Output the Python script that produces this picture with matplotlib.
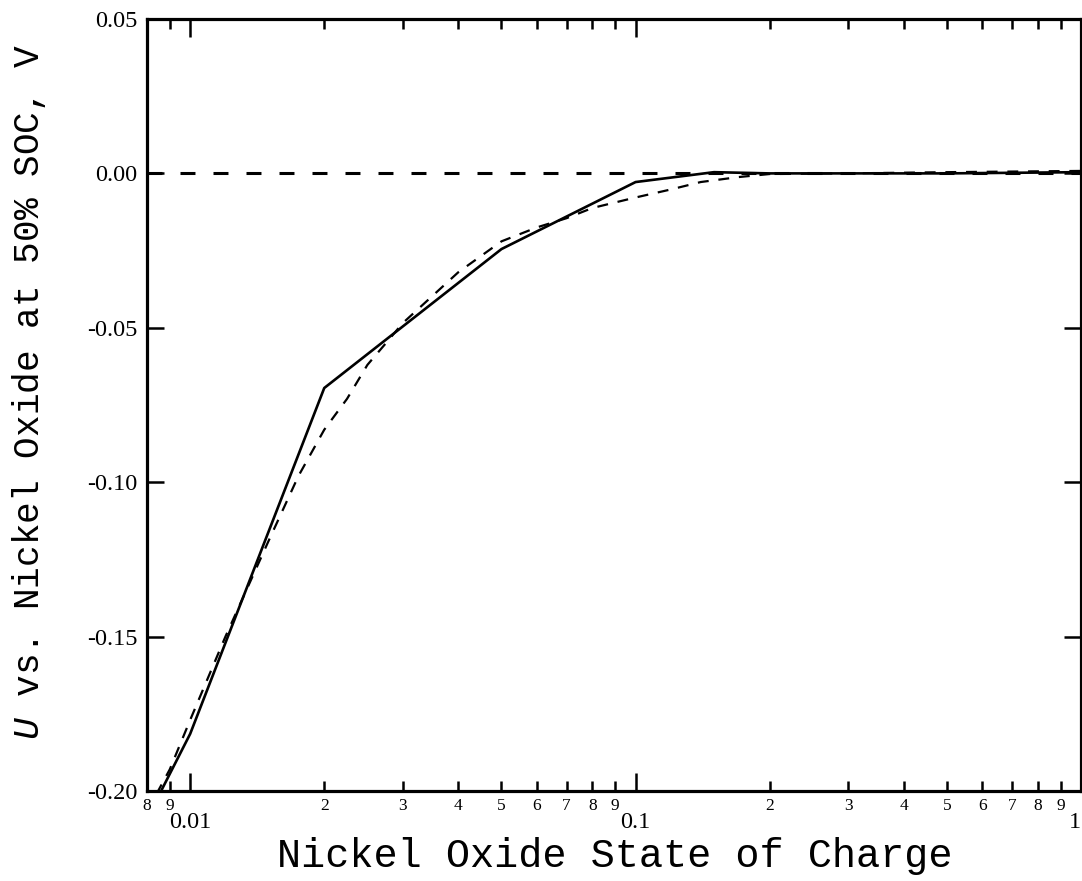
import numpy as np
import matplotlib
matplotlib.use("Agg")
import matplotlib.pyplot as plt
from matplotlib.ticker import FixedLocator, FuncFormatter, FormatStrFormatter

plt.rcParams["mathtext.fontset"] = "custom"
plt.rcParams["mathtext.it"] = "Liberation Mono:italic"
plt.rcParams["mathtext.rm"] = "Liberation Mono"

# Piecewise-linear curve (solid)
soc_solid = [0.0085, 0.01, 0.02, 0.05, 0.1, 0.15, 0.2, 0.5, 1.0]
u_solid = [-0.2015, -0.1815, -0.0695, -0.0245, -0.0028, 0.0004, 0.0, 0.0, 0.0004]

# Smooth fitted curve (dashed)
soc_fit = [0.0084, 0.009, 0.01, 0.012, 0.015, 0.0175, 0.02, 0.0225, 0.025, 0.0275,
           0.03, 0.04, 0.05, 0.06, 0.07, 0.08, 0.1, 0.12, 0.14, 0.17, 0.2, 0.3, 0.5, 1.0]
u_fit = [-0.201, -0.193, -0.177, -0.150, -0.119, -0.098, -0.083, -0.073, -0.062, -0.055,
         -0.0485, -0.032, -0.022, -0.0175, -0.0145, -0.0112, -0.0078, -0.0052, -0.0028,
         -0.0012, -0.0002, 0.0, 0.0004, 0.0008]

# Reference level
u_ref = 0.0

x_major = [0.01, 0.1, 1.0]
x_major_labels = ["0.01", "0.1", "1"]
x_minor = [0.008, 0.009] + [k * 0.01 for k in range(2, 10)] + [k * 0.1 for k in range(2, 10)]
y_ticks = [0.05, 0.00, -0.05, -0.10, -0.15, -0.20]

W, H = 1082, 881
fig = plt.figure(figsize=(W / 100, H / 100), dpi=100)
ax = fig.add_axes([147 / W, 1 - 791 / H, (1081 - 147) / W, (791 - 19) / H])

ax.set_xscale("log")
ax.set_xlim(0.0080, 1.0)
ax.set_ylim(-0.20, 0.05)

ax.axhline(u_ref, color="black", lw=2.2, dashes=(4.9, 5.9), zorder=2)
ax.plot(soc_fit, u_fit, color="black", lw=1.6, dashes=(4.9, 4.4), zorder=3)
ax.plot(soc_solid, u_solid, color="black", lw=1.9, zorder=4)

for s in ax.spines.values():
    s.set_linewidth(2.3)

ax.xaxis.set_major_locator(FixedLocator(x_major))
ax.xaxis.set_minor_locator(FixedLocator(x_minor))
ax.xaxis.set_major_formatter(FuncFormatter(
    lambda v, p: x_major_labels[int(np.argmin([abs(np.log10(v / m)) for m in x_major]))]))
ax.xaxis.set_minor_formatter(FuncFormatter(
    lambda v, p: "%d" % round(v / 10 ** np.floor(np.log10(v) + 1e-9))))

ax.yaxis.set_major_locator(FixedLocator(y_ticks))
ax.yaxis.set_major_formatter(FormatStrFormatter("%.2f"))

ax.tick_params(axis="both", which="both", direction="in", top=True, right=True,
               color="black", width=1.8)
ax.tick_params(axis="x", which="major", length=13, labelsize=17.5, pad=15)
ax.tick_params(axis="x", which="minor", length=7, labelsize=12.5, pad=5)
ax.tick_params(axis="y", which="major", length=12, labelsize=17.5, pad=7)

fig.canvas.draw()
for lab in ax.get_xticklabels(which="both") + ax.get_yticklabels():
    lab.set_fontfamily("Liberation Serif")
# the label at the right end sits flush against the frame edge
ax.xaxis.get_major_ticks()[-1].label1.set_horizontalalignment("right")

fig.text(615 / W, 1 - 867 / H, "Nickel Oxide State of Charge",
         ha="center", va="baseline", fontfamily="Liberation Mono", fontsize=29)

fig.text(29 / W, 1 - 392 / H, r"$U$ vs. Nickel Oxide at 50% SOC, V",
         rotation=90, ha="center", va="center", fontfamily="Liberation Mono",
         fontsize=26)

fig.savefig("out.png", dpi=100)
